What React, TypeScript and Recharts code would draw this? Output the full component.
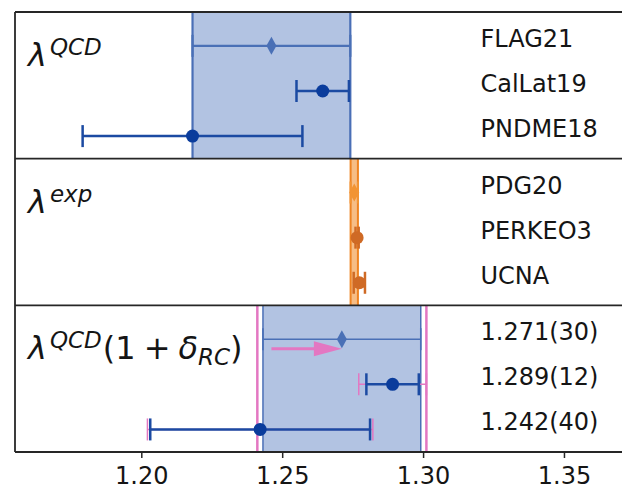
import React from 'react';
import {
  ScatterChart,
  Scatter,
  XAxis,
  YAxis,
  ErrorBar,
  ReferenceArea,
  ReferenceLine,
} from 'recharts';

// Lattice QCD determinations of lambda = gA/gV
const qcdNames = ['FLAG21', 'CalLat19', 'PNDME18'];
const qcdValues = [1.246, 1.2642, 1.218];
const qcdErrors = [0.028, 0.0093, 0.039];

// Experimental determinations
const expNames = ['PDG20', 'PERKEO3', 'UCNA'];
const expValues = [1.2754, 1.27641, 1.2772];
const expErrors = [0.0013, 0.00056, 0.002];

// Lattice values with the radiative correction applied
const rcLabels = ['1.271(30)', '1.289(12)', '1.242(40)'];
const rcValues = [1.271, 1.289, 1.242];
const rcLatticeErrors = [0.028, 0.0093, 0.039];
const rcTotalErrors = [0.03, 0.012, 0.04];

const xTicks = [1.2, 1.25, 1.3, 1.35];
const X_MIN = 1.155;
const X_MAX = 1.38;
const LABEL_X = 1.3202;

// vertical layout (in row units): three stacked panels of equal height
const PANEL_H = 3.25;
const ROW_OFFSET = 0.75;
const rowY = (panel: number, row: number) => panel * PANEL_H + ROW_OFFSET + row;

const FONT = 'DejaVu Sans, Verdana, sans-serif';
const C = {
  frame: '#262626',
  text: '#151515',
  bandFill: '#b2c3e2',
  bandEdge: '#4a6fb6',
  flag: '#4a70b6',
  dot: '#0a3c9c',
  bar: '#1b4aa2',
  pink: '#e377c2',
  orangeEdge: '#ef8422',
  orangeFill: '#f6bd86',
  pdg: '#f29433',
  expDot: '#cf6a25',
};

const qcdFlag = [{ x: qcdValues[0], y: rowY(0, 0), err: qcdErrors[0] }];
const qcdOthers = [1, 2].map((i) => ({ x: qcdValues[i], y: rowY(0, i), err: qcdErrors[i] }));
const expPdg = [{ x: expValues[0], y: rowY(1, 0), err: expErrors[0] }];
const expOthers = [1, 2].map((i) => ({ x: expValues[i], y: rowY(1, i), err: expErrors[i] }));
const rcFlag = [{ x: rcValues[0], y: rowY(2, 0), err: rcLatticeErrors[0] }];
const rcOthers = [1, 2].map((i) => ({
  x: rcValues[i],
  y: rowY(2, i),
  err: rcLatticeErrors[i],
  tot: rcTotalErrors[i],
}));

const rowLabels = [
  ...qcdNames.map((t, i) => ({ x: LABEL_X, y: rowY(0, i), label: t })),
  ...expNames.map((t, i) => ({ x: LABEL_X, y: rowY(1, i), label: t })),
  ...rcLabels.map((t, i) => ({ x: LABEL_X, y: rowY(2, i), label: t })),
];

const panelTitles = [
  { x: X_MIN, y: 0, kind: 'qcd' },
  { x: X_MIN, y: PANEL_H, kind: 'exp' },
  { x: X_MIN, y: 2 * PANEL_H, kind: 'rc' },
];

const qcdBand = [qcdValues[0] - qcdErrors[0], qcdValues[0] + qcdErrors[0]];
const expBand = [expValues[0] - expErrors[0], expValues[0] + expErrors[0]];
const rcBand = [rcValues[0] - rcLatticeErrors[0], rcValues[0] + rcLatticeErrors[0]];
const rcOuter = [rcValues[0] - rcTotalErrors[0], rcValues[0] + rcTotalErrors[0]];
const arrowY = rowY(2, 0) + 0.21;

const Dot = (color: string, r: number) => (p: any) => (
  <circle cx={p.cx} cy={p.cy} r={r} fill={color} />
);
const Diamond = (color: string, w: number, h: number) => (p: any) => (
  <polygon
    points={`${p.cx},${p.cy - h / 2} ${p.cx + w / 2},${p.cy} ${p.cx},${p.cy + h / 2} ${p.cx - w / 2},${p.cy}`}
    fill={color}
  />
);
const ArrowHead = (p: any) => (
  <polygon
    points={`${p.cx},${p.cy} ${p.cx - 28},${p.cy - 7.5} ${p.cx - 28},${p.cy + 7.5}`}
    fill={C.pink}
  />
);
const RowLabel = (p: any) => (
  <text x={p.cx} y={p.cy + 1} fontSize={24} fontFamily={FONT} fill={C.text}>
    {p.payload.label}
  </text>
);
const PanelTitle = (p: any) => {
  const x = p.cx + 13;
  const y = p.cy + 54;
  const sup = p.payload.kind === 'exp' ? 'exp' : 'QCD';
  return (
    <text x={x} y={y} fontFamily={FONT} fill={C.text} fontSize={32}>
      <tspan fontStyle="italic">λ</tspan>
      <tspan fontStyle="italic" fontSize={23} dx={3} dy={-11}>
        {sup}
      </tspan>
      {p.payload.kind === 'rc' && (
        <>
          <tspan dy={11} dx={1}>(1</tspan>
          <tspan dx={8}>+</tspan>
          <tspan dx={8} fontStyle="italic">δ</tspan>
          <tspan fontStyle="italic" fontSize={23} dy={6}>RC</tspan>
          <tspan dy={-6}>)</tspan>
        </>
      )}
    </text>
  );
};

const vSeg = (x: number, panel: number) => [
  { x, y: panel * PANEL_H },
  { x, y: (panel + 1) * PANEL_H },
];

export default function App() {
  return (
    <div
      style={{
        position: 'fixed',
        left: 0,
        top: 0,
        width: 622,
        height: 489,
        overflow: 'hidden',
        background: '#fff',
      }}
    >
      <ScatterChart
        width={654}
        height={489}
        margin={{ top: 12, right: 5, bottom: 0, left: 15 }}
      >
        <XAxis
          type="number"
          dataKey="x"
          domain={[X_MIN, X_MAX]}
          allowDataOverflow
          ticks={xTicks}
          tickFormatter={(v: number) => v.toFixed(2)}
          height={37}
          tickSize={6}
          tickMargin={9}
          axisLine={{ stroke: C.frame, strokeWidth: 1.8 }}
          tickLine={{ stroke: C.frame, strokeWidth: 1.5 }}
          tick={{ fontSize: 24, fontFamily: FONT, fill: C.text }}
        />
        <YAxis type="number" dataKey="y" domain={[0, 3 * PANEL_H]} reversed hide />

        {/* averaged bands */}
        <ReferenceArea
          x1={qcdBand[0]}
          x2={qcdBand[1]}
          y1={0}
          y2={PANEL_H}
          fill={C.bandFill}
          fillOpacity={1}
          stroke="none"
          ifOverflow="visible"
        />
        <ReferenceArea
          x1={expBand[0]}
          x2={expBand[1]}
          y1={PANEL_H}
          y2={2 * PANEL_H}
          fill={C.orangeFill}
          fillOpacity={1}
          stroke="none"
          ifOverflow="visible"
        />
        <ReferenceArea
          x1={rcBand[0]}
          x2={rcBand[1]}
          y1={2 * PANEL_H}
          y2={3 * PANEL_H}
          fill={C.bandFill}
          fillOpacity={1}
          stroke="none"
          ifOverflow="visible"
        />
        {qcdBand.map((v) => (
          <ReferenceLine key={`q${v}`} segment={vSeg(v, 0)} stroke={C.bandEdge} strokeWidth={2.2} ifOverflow="visible" />
        ))}
        {expBand.map((v) => (
          <ReferenceLine key={`e${v}`} segment={vSeg(v, 1)} stroke={C.orangeEdge} strokeWidth={2} ifOverflow="visible" />
        ))}
        {rcBand.map((v) => (
          <ReferenceLine key={`r${v}`} segment={vSeg(v, 2)} stroke={C.bandEdge} strokeWidth={1.5} ifOverflow="visible" />
        ))}
        {rcOuter.map((v) => (
          <ReferenceLine key={`p${v}`} segment={vSeg(v, 2)} stroke={C.pink} strokeWidth={2.5} ifOverflow="visible" />
        ))}

        {/* panel frame */}
        <ReferenceLine y={0} stroke={C.frame} strokeWidth={1.8} ifOverflow="visible" />
        <ReferenceLine y={PANEL_H} stroke={C.frame} strokeWidth={1.8} ifOverflow="visible" />
        <ReferenceLine y={2 * PANEL_H} stroke={C.frame} strokeWidth={1.8} ifOverflow="visible" />
        <ReferenceLine x={X_MIN} stroke={C.frame} strokeWidth={1.8} ifOverflow="visible" />

        {/* shift arrow from the uncorrected to the corrected FLAG value */}
        <ReferenceLine
          segment={[
            { x: qcdValues[0], y: arrowY },
            { x: rcValues[0] - 0.008, y: arrowY },
          ]}
          stroke={C.pink}
          strokeWidth={3}
          ifOverflow="visible"
        />
        <Scatter data={[{ x: rcValues[0], y: arrowY }]} shape={ArrowHead} isAnimationActive={false} />

        {/* lattice QCD */}
        <Scatter data={qcdFlag} shape={Diamond(C.flag, 10, 18)} isAnimationActive={false}>
          <ErrorBar dataKey="err" direction="x" width={11} stroke={C.flag} strokeWidth={2.2} isAnimationActive={false} />
        </Scatter>
        <Scatter data={qcdOthers} shape={Dot(C.dot, 6.5)} isAnimationActive={false}>
          <ErrorBar dataKey="err" direction="x" width={11} stroke={C.bar} strokeWidth={2.5} isAnimationActive={false} />
        </Scatter>

        {/* experiment */}
        <Scatter data={expPdg} shape={Diamond(C.pdg, 10, 18)} isAnimationActive={false}>
          <ErrorBar dataKey="err" direction="x" width={11} stroke={C.pdg} strokeWidth={2} isAnimationActive={false} />
        </Scatter>
        <Scatter data={expOthers} shape={Dot(C.expDot, 6.5)} isAnimationActive={false}>
          <ErrorBar dataKey="err" direction="x" width={11} stroke={C.expDot} strokeWidth={2.5} isAnimationActive={false} />
        </Scatter>

        {/* radiatively corrected lattice values */}
        <Scatter data={rcOthers} shape={() => <g />} isAnimationActive={false}>
          <ErrorBar dataKey="tot" direction="x" width={11} stroke={C.pink} strokeWidth={1.5} isAnimationActive={false} />
        </Scatter>
        <Scatter data={rcFlag} shape={Diamond(C.flag, 10, 18)} isAnimationActive={false}>
          <ErrorBar dataKey="err" direction="x" width={11} stroke={C.flag} strokeWidth={1.6} isAnimationActive={false} />
        </Scatter>
        <Scatter data={rcOthers} shape={Dot(C.dot, 6.5)} isAnimationActive={false}>
          <ErrorBar dataKey="err" direction="x" width={11} stroke={C.bar} strokeWidth={2.5} isAnimationActive={false} />
        </Scatter>

        {/* texts */}
        <Scatter data={rowLabels} shape={RowLabel} isAnimationActive={false} />
        <Scatter data={panelTitles} shape={PanelTitle} isAnimationActive={false} />
      </ScatterChart>
    </div>
  );
}
